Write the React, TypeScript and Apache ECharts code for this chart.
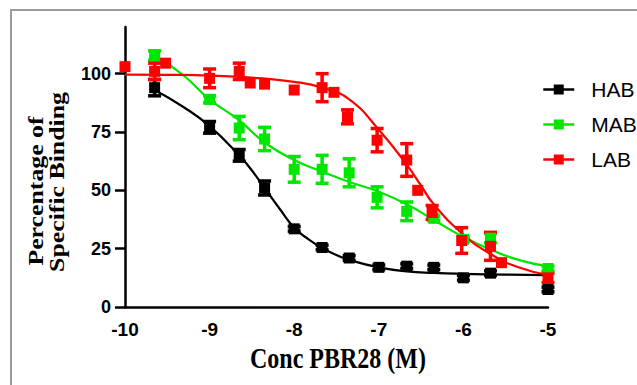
import React, { useEffect, useRef } from 'react';
import * as echarts from 'echarts';

// ---- data (log10 molar concentration, % specific binding, SEM) ----
const seriesNames = ['HAB', 'MAB', 'LAB'];
const seriesColors = ['#000000', '#00e600', '#ff0000'];
const yTicks = [0, 25, 50, 75, 100];

const habPoints = [
  [-9.65, 94, 3.5], [-9.0, 77, 2.5], [-8.65, 65, 2.5], [-8.35, 51, 3], [-8.0, 33.5, 1],
  [-7.67, 25.5, 1], [-7.35, 21, 1], [-7.0, 17, 1], [-6.67, 17.5, 1], [-6.35, 17, 1],
  [-6.0, 12.5, 1], [-5.68, 14.5, 1], [-5.0, 7.5, 1],
];
const mabPoints = [
  [-9.65, 107.8, 2], [-9.0, 89, 1.5], [-8.65, 76.7, 5], [-8.35, 72, 5], [-8.0, 59, 5.5],
  [-7.67, 59, 6], [-7.35, 57.5, 6], [-7.02, 47, 4.5], [-6.67, 41, 4], [-6.35, 38, 1],
  [-6.0, 29, 1], [-5.68, 29.5, 2], [-5.0, 16.5, 1],
];
const labPoints = [
  [-10, 103, 0], [-9.65, 101, 3.5], [-9.52, 104.5, 0], [-9.0, 98, 4], [-8.65, 101, 3.5],
  [-8.52, 96, 0], [-8.35, 95.5, 0], [-8.0, 93, 0], [-7.67, 94, 6], [-7.53, 92, 0],
  [-7.37, 81.5, 3], [-7.02, 71.5, 5], [-6.67, 63, 7], [-6.54, 50, 0], [-6.37, 40.5, 3],
  [-6.02, 28.5, 5.5], [-5.68, 26, 6], [-5.55, 19, 0], [-5.0, 12.5, 2],
];

const habFit = [
  [-9.65, 93], [-9.3, 85.5], [-9.0, 77.5], [-8.65, 65], [-8.5, 58.5], [-8.35, 51],
  [-8.17, 42], [-8.0, 34], [-7.83, 29], [-7.67, 25.3], [-7.5, 22.3], [-7.35, 20.2],
  [-7.0, 17], [-6.67, 15.3], [-6.35, 14.6], [-6.0, 14.2], [-5.5, 13.9], [-5.0, 13.7],
];
const mabFit = [
  [-9.65, 108], [-9.3, 99], [-9.0, 89], [-8.65, 80], [-8.35, 70.5], [-8.0, 63],
  [-7.67, 58], [-7.35, 53.6], [-7.0, 49.4], [-6.67, 44], [-6.35, 37.3], [-6.0, 30],
  [-5.67, 24.5], [-5.35, 20.2], [-5.0, 17.4],
];
const labFit = [
  [-10, 99.6], [-9.5, 99.5], [-9.0, 99.2], [-8.5, 98.3], [-8.0, 96.5], [-7.67, 94],
  [-7.35, 89], [-7.0, 76], [-6.67, 61], [-6.5, 52], [-6.35, 44], [-6.0, 31],
  [-5.67, 22.5], [-5.35, 17], [-5.0, 13.7],
];

const allPoints = [habPoints, mabPoints, labPoints];
const allFits = [habFit, mabFit, labFit];

export default function App() {
  const ref = useRef<HTMLDivElement>(null);
  useEffect(() => {
    const chart = echarts.init(ref.current!, null, { renderer: 'svg' });

    const lineSeries = allFits.map((fit, i) => ({
      type: 'line',
      name: seriesNames[i],
      data: fit,
      smooth: true,
      showSymbol: false,
      symbol: 'rect',
      symbolSize: 10,
      z: 3,
      lineStyle: { color: seriesColors[i], width: 2.2 },
      itemStyle: { color: seriesColors[i] },
    }));

    const errSeries = allPoints.map((pts, i) => ({
      type: 'custom',
      name: seriesNames[i] + ' err',
      data: pts,
      z: 2,
      encode: { x: 0, y: 1 },
      renderItem: (params: any, api: any) => {
        const x = api.value(0);
        const y = api.value(1);
        const e = api.value(2);
        if (!e) return { type: 'group', children: [] };
        const top = api.coord([x, y + e]);
        const bot = api.coord([x, y - e]);
        const w = 6.5;
        const st = { stroke: seriesColors[i], lineWidth: 3.5 };
        return {
          type: 'group',
          children: [
            { type: 'line', shape: { x1: top[0], y1: top[1], x2: bot[0], y2: bot[1] }, style: st },
            { type: 'line', shape: { x1: top[0] - w, y1: top[1], x2: top[0] + w, y2: top[1] }, style: st },
            { type: 'line', shape: { x1: bot[0] - w, y1: bot[1], x2: bot[0] + w, y2: bot[1] }, style: st },
          ],
        };
      },
    }));

    const pointSeries = allPoints.map((pts, i) => ({
      type: 'scatter',
      name: seriesNames[i] + ' pts',
      data: pts.map((p) => [p[0], p[1]]),
      symbol: 'rect',
      symbolSize: 11,
      z: 4,
      itemStyle: { color: seriesColors[i], opacity: 1 },
    }));

    const option: any = {
      animation: false,
      backgroundColor: '#ffffff',
      grid: { left: 125, right: 89, top: 27, bottom: 78, containLabel: false, outerBoundsMode: 'none' },
      legend: {
        data: seriesNames,
        orient: 'vertical',
        left: 537,
        top: 74,
        itemWidth: 31,
        itemHeight: 12.5,
        itemGap: 14,
        lineStyle: { width: 2.5 },
        textStyle: {
          fontFamily: 'Liberation Sans',
          fontSize: 21,
          lineHeight: 21,
          color: '#000',
          padding: [0, 0, 0, 12],
        },
      },
      xAxis: {
        type: 'value',
        min: -10,
        max: -5,
        interval: 1,
        splitLine: { show: false },
        axisTick: { show: false },
        axisLine: { lineStyle: { color: '#000', width: 2.5 } },
        axisLabel: {
          color: '#000',
          fontFamily: 'Liberation Sans',
          fontWeight: 'bold',
          fontSize: 19,
          margin: 13,
        },
      },
      yAxis: {
        type: 'value',
        min: 0,
        max: 120,
        interval: 25,
        splitLine: { show: false },
        axisLine: { show: true, lineStyle: { color: '#000', width: 2.5 } },
        axisTick: {
          show: true,
          inside: false,
          length: 10,
          lineStyle: { color: '#000', width: 2.5 },
          customValues: yTicks,
        },
        axisLabel: {
          color: '#000',
          fontFamily: 'Liberation Sans',
          fontWeight: 'bold',
          fontSize: 18,
          margin: 14,
          customValues: yTicks,
        },
      },
      graphic: [
        {
          type: 'rect',
          shape: { x: 11, y: 10, width: 800, height: 600 },
          style: { fill: 'none', stroke: '#9a9a9a', lineWidth: 2 },
          silent: true,
        },
        {
          type: 'text',
          x: 338,
          y: 358,
          scaleY: 1.25,
          style: {
            text: 'Conc PBR28 (M)',
            fontFamily: 'Liberation Serif',
            fontWeight: 'bold',
            fontSize: 24,
            fill: '#000',
            align: 'center',
            verticalAlign: 'middle',
          },
        },
        {
          type: 'text',
          x: 36,
          y: 191,
          rotation: Math.PI / 2,
          scaleX: 1.2,
          style: {
            text: 'Percentage of',
            fontFamily: 'Liberation Serif',
            fontWeight: 'bold',
            fontSize: 21.5,
            fill: '#000',
            align: 'center',
            verticalAlign: 'middle',
          },
        },
        {
          type: 'text',
          x: 57,
          y: 182,
          rotation: Math.PI / 2,
          scaleX: 1.2,
          style: {
            text: 'Specific Binding',
            fontFamily: 'Liberation Serif',
            fontWeight: 'bold',
            fontSize: 21.5,
            fill: '#000',
            align: 'center',
            verticalAlign: 'middle',
          },
        },
      ],
      series: [...lineSeries, ...errSeries, ...pointSeries],
    };

    chart.setOption(option);
    return () => chart.dispose();
  }, []);

  return (
    <div
      ref={ref}
      style={{ position: 'fixed', left: 0, top: 0, width: 637, height: 385, background: '#fff' }}
    />
  );
}
